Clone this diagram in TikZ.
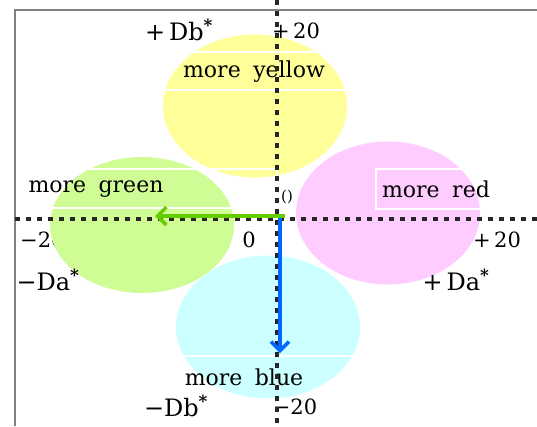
\documentclass[tikz,border=0pt]{standalone}
\usepackage{fontspec}
\setmainfont{DejaVu Serif}
\usetikzlibrary{shapes.geometric,arrows.meta}
\definecolor{cyel}{RGB}{255,255,153}
\definecolor{cgrn}{RGB}{208,252,150}
\definecolor{cpnk}{RGB}{255,204,255}
\definecolor{ccyn}{RGB}{204,255,255}
\definecolor{agrn}{RGB}{102,204,0}
\definecolor{ablu}{RGB}{0,102,255}
\newcommand{\astr}{\textsuperscript{\bfseries *}}
\tikzset{
  blob/.style={ellipse, draw=none, minimum width=184pt, minimum height=143pt, inner sep=0pt},
  lbl/.style={font=\fontsize{22}{24}\selectfont, inner sep=0pt},
  axlbl/.style={font=\fontsize{21}{23}\selectfont, inner sep=0pt},
  dlbl/.style={font=\fontsize{24}{26}\selectfont, inner sep=0pt},
  wbox/.style={draw=white, line width=1.2pt},
  axis/.style={line width=3.5pt, dash pattern=on 5pt off 6pt, black!85},
  vec/.style={line width=3.5pt, -{Straight Barb[length=9pt,width=18pt,line width=3.5pt]}},
}
\begin{document}
\begin{tikzpicture}[x=1pt,y=-1pt]
\useasboundingbox (0,0) rectangle (537,426);
\fill[white] (0,0) rectangle (537,426);
% frame
\draw[gray, line width=1.5pt] (15,426) -- (15,10) -- (537,10);
% label under green ellipse
\node[axlbl, anchor=west] (xmin) at (20,240) {−20};
% ellipses
\node[blob, fill=cyel] (yel) at (255,106) {};
\node[blob, fill=cgrn, minimum height=136pt] (grn) at (142,225) {};
\node[blob, fill=cpnk] (pnk) at (388,213) {};
\node[blob, fill=ccyn] (cyn) at (268,327) {};
% white boxes
\draw[wbox] (160,52) rectangle (360,90);
\draw[wbox] (20,169) rectangle (277,208);
\draw[wbox] (376,169) rectangle (500,209);
\draw[wbox] (170,356) rectangle (370,399);
% texts
\node[lbl] (tyel) at (254,72) {more\hspace{0.25em} yellow};
\node[lbl] (tgrn) at (96,189) {more\hspace{0.25em} green};
\node[lbl] (tred) at (436,189) {more\hspace{0.25em} red};
\node[lbl] (tblu) at (244,377) {more\hspace{0.25em} blue};
\node[dlbl] (pdb) at (179,30) {+\,Db\astr};
\node[dlbl] (mdb) at (176,406) {−Db\astr};
\node[dlbl] (mda) at (48,280) {−Da\astr};
\node[dlbl] (pda) at (456,280) {+\,Da\astr};
\node[axlbl] (ytop) at (296,31) {+\,20};
\node[axlbl] (ybot) at (295,407) {−20};
\node[axlbl] (zero) at (249,240) {0};
\node[axlbl] (xmax) at (497,240) {+\,20};
\node[font=\fontsize{15}{16}\selectfont, inner sep=0pt] (orig) at (287,197) {()};
% axes
\coordinate (vt) at (277,0);
\coordinate (vb) at (277,426);
\coordinate (hl) at (15,219);
\coordinate (hr) at (537,219);
\coordinate (o) at (285,216);
\coordinate (g) at (155,216);
\coordinate (ob) at (280,218);
\coordinate (b) at (280,353);
\draw[axis] (vt) -- (vb);
\draw[axis] (hl) -- (hr);
% vectors
\draw[vec, agrn] (o) -- (g);
\draw[vec, ablu] (ob) -- (b);
\end{tikzpicture}
\end{document}
